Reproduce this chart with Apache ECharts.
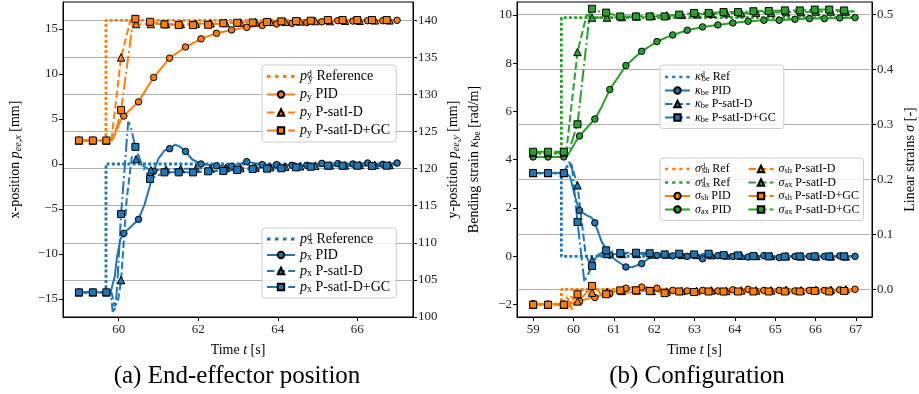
<!DOCTYPE html>
<html><head><meta charset="utf-8">
<script src="https://cdn.jsdelivr.net/npm/echarts@6/dist/echarts.min.js"></script>
<style>html,body{margin:0;padding:0;background:#fff}#c{width:919px;height:394px}</style>
</head><body><div id="c"></div>
<script>
// ---------- tick values ----------
const TX_A = [60, 62, 64, 66];
const TX_B = [59, 60, 61, 62, 63, 64, 65, 66, 67];
const TY_A_L = [-15, -10, -5, 0, 5, 10, 15];
const TY_A_R = [100, 105, 110, 115, 120, 125, 130, 135, 140];
const TY_B_L = [-2, 0, 2, 4, 6, 8, 10];
const TY_B_R = [0, 0.1, 0.2, 0.3, 0.4, 0.5];

// ---------- (a) y-position [mm] (right axis) ----------
const PY_REF = [[59,123.8],[59.68,123.8],[59.68,140],[67,140]];
const PY_PID = [[59,123.8],[59.35,123.8],[59.69,123.8],[60.13,127.1],[60.5,129.0],[60.88,132.3],[61.28,134.9],[61.68,136.4],[62.07,137.5],[62.46,138.25],[62.84,138.7],[63.22,139.05],[63.61,139.3],[63.97,139.5],[64.36,139.6],[64.73,139.7],[65.11,139.8],[65.51,139.95],[65.89,139.9],[66.26,139.95],[66.64,139.95],[67.0,140.0]];
const PY_PID_X = [[59.85,123.9],[59.97,125.5],[60.05,126.5],[60.3,128.0],[60.7,130.8]];
const PY_SAT = [[59,123.8],[59.35,123.8],[59.69,123.8],[60.06,135.0],[60.44,139.5],[60.81,139.5],[61.19,139.5],[61.56,139.5],[61.94,139.55],[62.31,139.6],[62.69,139.65],[63.06,139.7],[63.44,139.75],[63.81,139.8],[64.19,139.8],[64.56,139.85],[64.94,139.9],[65.31,139.9],[65.69,139.95],[66.06,139.95],[66.44,140.0],[66.81,140.0]];
const PY_SAT_X = [[59.82,124.0],[60.3,140.1],[67,140.0]];
const PY_GC = [[59,123.8],[59.35,123.8],[59.69,123.8],[60.06,127.9],[60.42,140.2],[60.79,139.8],[61.15,139.45],[61.51,139.36],[61.87,139.36],[62.25,139.4],[62.63,139.6],[62.98,139.67],[63.37,139.7],[63.73,139.77],[64.09,139.86],[64.46,139.9],[64.83,139.95],[65.26,140.04],[65.63,140.04],[66.0,140.04],[66.37,140.04],[66.74,140.04]];
const PY_GC_X = [[59.83,123.9],[59.95,125.5],[60.15,131.5],[60.37,140.3],[67,140.0]];

// ---------- (a) x-position [mm] (left axis) ----------
const PX_REF = [[59,-14.26],[59.68,-14.26],[59.68,0],[67,0]];
const PX_PID = [[59,-14.26],[59.35,-14.26],[59.69,-14.26],[60.13,-7.7],[60.5,-6.15],[60.88,-0.8],[61.28,1.7],[61.68,1.4],[62.07,0.0],[62.46,-0.2],[62.84,-0.26],[63.22,0.26],[63.61,-0.07],[63.97,-0.07],[64.36,-0.15],[64.73,-0.15],[65.11,0.07],[65.51,0.04],[65.89,0.0],[66.26,0.11],[66.64,-0.04],[67.0,0.11]];
const PX_PID_X = [[59.8,-14.2],[59.9,-12.5],[59.96,-10.3],[60.04,-8.4],[60.3,-7.0],[60.65,-4.5],[60.78,-2.5],[61.0,0.6],[61.15,1.5],[61.42,2.15],[61.55,1.9],[61.85,0.5]];
const PX_SAT = [[59,-14.26],[59.35,-14.26],[59.69,-14.26],[60.06,-12.9],[60.44,0.55],[60.81,-0.7],[61.19,-0.6],[61.56,-0.55],[61.94,-0.5],[62.31,-0.5],[62.69,-0.45],[63.06,-0.45],[63.44,-0.4],[63.81,-0.35],[64.19,-0.3],[64.56,-0.25],[64.94,-0.2],[65.31,-0.15],[65.69,-0.15],[66.06,-0.1],[66.44,-0.1],[66.81,-0.1]];
const PX_SAT_X = [[59.82,-14.3],[59.9,-15.8],[59.98,-15.3],[60.2,-4.0],[60.33,0.8],[60.6,-0.2],[67,-0.1]];
const PX_GC = [[59,-14.26],[59.35,-14.26],[59.69,-14.26],[60.06,-5.56],[60.42,1.9],[60.79,-1.67],[61.15,-0.93],[61.51,-0.93],[61.87,-0.93],[62.25,-0.81],[62.63,-0.78],[62.98,-0.67],[63.37,-0.56],[63.73,-0.52],[64.09,-0.48],[64.46,-0.37],[64.83,-0.3],[65.26,-0.19],[65.63,-0.19],[66.0,-0.19],[66.37,-0.22],[66.74,-0.19]];
const PX_GC_X = [[59.8,-14.3],[59.85,-16.4],[59.92,-16.0],[59.97,-13.0],[60.24,4.7],[60.3,4.2],[60.6,-0.3],[67,-0.15]];

// ---------- (b) bending strain kappa_be [rad/m] (left axis) ----------
const K_REF = [[59,3.45],[59.7,3.45],[59.7,0],[67,0]];
const K_PID = [[59,3.45],[59.37,3.45],[59.76,3.45],[60.15,1.9],[60.53,1.39],[60.9,0.05],[61.3,-0.44],[61.69,-0.3],[62.07,0.04],[62.46,0.02],[62.82,0.0],[63.2,-0.1],[63.58,0.03],[63.95,0.0],[64.33,-0.03],[64.72,0.03],[65.1,-0.05],[65.49,0.0],[65.85,0.0],[66.22,0.0],[66.6,0.02],[66.98,0.0]];
const K_PID_X = [[59.82,3.45],[59.92,3.28],[60.04,2.46],[60.33,1.7],[60.45,1.6],[60.7,0.6],[61.06,-0.17],[61.45,-0.45],[61.85,-0.1]];
const K_SAT = [[59,3.45],[59.37,3.45],[59.76,3.45],[60.1,2.94],[60.46,-0.17],[60.83,0.1],[61.2,0.1],[61.57,0.1],[61.94,0.08],[62.31,0.08],[62.68,0.06],[63.05,0.06],[63.42,0.05],[63.79,0.04],[64.16,0.03],[64.53,0.02],[64.9,0.02],[65.27,0.01],[65.64,0.0],[66.01,0.0],[66.38,0.0],[66.75,0.0]];
const K_SAT_X = [[59.8,3.5],[59.88,3.9],[59.95,3.8],[60.2,1.5],[60.3,0.1],[60.4,-0.3],[60.6,0.0],[67,0.0]];
const K_GC = [[59,3.45],[59.37,3.45],[59.76,3.45],[60.1,1.42],[60.46,-0.4],[60.81,0.25],[61.16,0.14],[61.55,0.15],[61.89,0.13],[62.26,0.08],[62.62,0.11],[62.99,0.08],[63.35,0.11],[63.72,0.05],[64.08,0.04],[64.46,0.01],[64.84,0.0],[65.24,-0.01],[65.61,0.0],[65.98,0.0],[66.34,0.0],[66.71,0.0]];
const K_GC_X = [[59.8,3.5],[59.9,3.85],[59.97,3.6],[60.27,-1.06],[60.6,0.05],[67,0.0]];

// ---------- (b) shear strain sigma_sh (right axis) ----------
const SH_REF = [[59,-0.027],[59.7,-0.027],[59.7,0.0],[67,0.0]];
const SH_PID = [[59,-0.026],[59.37,-0.027],[59.76,-0.027],[60.15,-0.022],[60.53,-0.015],[60.9,-0.008],[61.3,0.002],[61.69,0.004],[62.07,0.002],[62.46,-0.002],[62.82,-0.003],[63.2,-0.002],[63.58,-0.003],[63.95,-0.001],[64.33,0.0],[64.72,-0.002],[65.1,-0.002],[65.49,-0.003],[65.85,-0.002],[66.22,-0.002],[66.6,-0.001],[66.98,0.0]];
const SH_PID_X = [[59.85,-0.027],[60.0,-0.024],[60.35,-0.017],[60.7,-0.01],[61.1,-0.002],[61.5,0.004]];
const SH_SAT = [[59,-0.028],[59.37,-0.028],[59.76,-0.028],[60.1,-0.022],[60.46,-0.006],[60.83,-0.005],[61.2,-0.003],[61.57,-0.002],[61.94,-0.003],[62.31,-0.004],[62.68,-0.003],[63.05,-0.003],[63.42,-0.002],[63.79,-0.003],[64.16,-0.002],[64.53,-0.002],[64.9,-0.002],[65.27,-0.001],[65.64,-0.002],[66.01,-0.001],[66.38,-0.001],[66.75,0.0]];
const SH_SAT_X = [[59.82,-0.028],[59.87,-0.034],[59.92,-0.026],[59.96,-0.037],[60.02,-0.024],[60.2,-0.016],[60.3,-0.008],[60.38,-0.012],[60.6,-0.002],[60.7,-0.009],[61.0,-0.001],[61.4,-0.006],[67,0.0]];
const SH_GC = [[59,-0.028],[59.37,-0.028],[59.76,-0.028],[60.1,-0.009],[60.46,0.006],[60.81,-0.009],[61.16,-0.002],[61.55,-0.002],[61.89,-0.003],[62.26,-0.007],[62.62,-0.004],[62.99,-0.005],[63.35,-0.004],[63.72,-0.004],[64.08,-0.004],[64.46,-0.004],[64.84,-0.004],[65.24,-0.004],[65.61,-0.004],[65.98,-0.003],[66.34,-0.004],[66.71,-0.003]];
const SH_GC_X = [[59.8,-0.028],[59.85,-0.012],[59.9,-0.03],[59.95,-0.01],[60.0,-0.02],[60.25,0.0],[60.35,-0.006],[60.6,-0.001],[60.7,-0.012],[61.0,0.001],[61.3,-0.007],[67,-0.002]];

// ---------- (b) axial strain sigma_ax (right axis) ----------
const AX_REF = [[59,0.247],[59.7,0.247],[59.7,0.494],[67,0.494]];
const AX_PID = [[59,0.2406],[59.37,0.2406],[59.76,0.2406],[60.15,0.2787],[60.53,0.3096],[60.9,0.3631],[61.3,0.4067],[61.69,0.4327],[62.07,0.4504],[62.46,0.4624],[62.82,0.471],[63.2,0.477],[63.58,0.4806],[63.95,0.4842],[64.33,0.4873],[64.72,0.4891],[65.1,0.4891],[65.49,0.4909],[65.85,0.4921],[66.22,0.4921],[66.6,0.4933],[66.98,0.494]];
const AX_PID_X = [[59.84,0.242],[59.96,0.256],[60.05,0.268],[60.35,0.295],[60.7,0.332]];
const AX_SAT = [[59,0.248],[59.37,0.248],[59.76,0.248],[60.1,0.4315],[60.46,0.494],[60.83,0.494],[61.2,0.495],[61.57,0.496],[61.94,0.497],[62.31,0.498],[62.68,0.499],[63.05,0.5],[63.42,0.501],[63.79,0.502],[64.16,0.502],[64.53,0.503],[64.9,0.503],[65.27,0.504],[65.64,0.504],[66.01,0.505],[66.38,0.505],[66.75,0.505]];
const AX_SAT_X = [[59.82,0.249],[60.33,0.5],[60.38,0.497],[67,0.505]];
const AX_GC = [[59,0.25],[59.37,0.25],[59.76,0.25],[60.1,0.3],[60.46,0.51],[60.81,0.503],[61.16,0.496],[61.55,0.496],[61.89,0.496],[62.26,0.496],[62.62,0.4994],[62.99,0.5024],[63.35,0.5024],[63.72,0.504],[64.08,0.504],[64.46,0.5055],[64.84,0.506],[65.24,0.507],[65.61,0.507],[65.98,0.5085],[66.34,0.5085],[66.71,0.507]];
const AX_GC_X = [[59.82,0.25],[59.9,0.255],[60.4,0.5],[60.44,0.508],[67,0.505]];

// ---------- styling helpers ----------
const F = "'Liberation Serif','DejaVu Serif',serif";
const COL = {b:'#1f77b4', o:'#ff7f0e', g:'#2ca02c'};
const DOT = [3, 2.2], DASH = [7.4, 3.2], DASHDOT = [12.8, 3.2, 2, 3.2];

function merged(marks, extra) {
  const all = marks.map(p => ({p, m:true})).concat((extra || []).map(p => ({p, m:false})));
  all.sort((a, b) => a.p[0] - b.p[0]);
  return all.map(o => o.m ? {value:o.p} : {value:o.p, symbol:'none'});
}
function mk(name, marks, extra, color, kind, xi, yi) {
  const ref = kind === 'ref';
  const sym = {pid:'circle', sat:'triangle', gc:'rect'}[kind] || 'none';
  const size = {pid:6.5, sat:7.5, gc:7}[kind] || 0;
  return {
    name, type:'line', xAxisIndex:xi, yAxisIndex:yi,
    data: ref ? marks.map(p => ({value:p})) : merged(marks, extra),
    symbol:sym, symbolSize:size, showSymbol:!ref,
    lineStyle:{color, width: ref ? 2.8 : 2, type: ref ? DOT : kind === 'pid' ? 'solid' : kind === 'sat' ? DASH : DASHDOT},
    itemStyle:{color, borderColor:'#000', borderWidth: ref ? 0 : 1},
    emphasis:{disabled:true}, animation:false, silent:true
  };
}

const series = [
  mk('pxRef', PX_REF, null, COL.b, 'ref', 0, 0),
  mk('pxPID', PX_PID, PX_PID_X, COL.b, 'pid', 0, 0),
  mk('pxSat', PX_SAT, PX_SAT_X, COL.b, 'sat', 0, 0),
  mk('pxGC', PX_GC, PX_GC_X, COL.b, 'gc', 0, 0),
  mk('pyRef', PY_REF, null, COL.o, 'ref', 0, 1),
  mk('pyPID', PY_PID, PY_PID_X, COL.o, 'pid', 0, 1),
  mk('pySat', PY_SAT, PY_SAT_X, COL.o, 'sat', 0, 1),
  mk('pyGC', PY_GC, PY_GC_X, COL.o, 'gc', 0, 1),
  mk('kRef', K_REF, null, COL.b, 'ref', 1, 2),
  mk('kPID', K_PID, K_PID_X, COL.b, 'pid', 1, 2),
  mk('kSat', K_SAT, K_SAT_X, COL.b, 'sat', 1, 2),
  mk('kGC', K_GC, K_GC_X, COL.b, 'gc', 1, 2),
  mk('shRef', SH_REF, null, COL.o, 'ref', 1, 3),
  mk('axRef', AX_REF, null, COL.g, 'ref', 1, 3),
  mk('shPID', SH_PID, SH_PID_X, COL.o, 'pid', 1, 3),
  mk('axPID', AX_PID, AX_PID_X, COL.g, 'pid', 1, 3),
  mk('shSat', SH_SAT, SH_SAT_X, COL.o, 'sat', 1, 3),
  mk('axSat', AX_SAT, AX_SAT_X, COL.g, 'sat', 1, 3),
  mk('shGC', SH_GC, SH_GC_X, COL.o, 'gc', 1, 3),
  mk('axGC', AX_GC, AX_GC_X, COL.g, 'gc', 1, 3)
];

const LAB = {
  pyRef:'{i|p}{sp|d}{sb|y} Reference', pyPID:'{i|p}{sb|y} PID', pySat:'{i|p}{sb|y} P-satI-D', pyGC:'{i|p}{sb|y} P-satI-D+GC',
  pxRef:'{i|p}{sp|d}{sb|x} Reference', pxPID:'{i|p}{sb|x} PID', pxSat:'{i|p}{sb|x} P-satI-D', pxGC:'{i|p}{sb|x} P-satI-D+GC',
  kRef:'{i|κ}{sp|d}{sb|be} Ref', kPID:'{i|κ}{sb|be} PID', kSat:'{i|κ}{sb|be} P-satI-D', kGC:'{i|κ}{sb|be} P-satI-D+GC',
  shRef:'{i|σ}{sp|d}{sb|sh} Ref', axRef:'{i|σ}{sp|d}{sb|ax} Ref', shPID:'{i|σ}{sb|sh} PID', axPID:'{i|σ}{sb|ax} PID',
  shSat:'{i|σ}{sb|sh} P-satI-D', axSat:'{i|σ}{sb|ax} P-satI-D', shGC:'{i|σ}{sb|sh} P-satI-D+GC', axGC:'{i|σ}{sb|ax} P-satI-D+GC'
};
function richSet(fs, lh) {
  return {
    i:{fontStyle:'italic', fontFamily:F, fontSize:fs, lineHeight:lh, color:'#000'},
    sb:{fontFamily:F, fontSize:fs*0.7, lineHeight:fs*0.6, verticalAlign:'bottom', color:'#000'},
    sp:{fontFamily:F, fontSize:fs*0.7, lineHeight:fs*0.6, verticalAlign:'top', width:1, color:'#000'}
  };
}
const REF_ICON = 'path://M0,0M28,8M0,2.5h3.5v3h-3.5zM8,2.5h3.5v3h-3.5zM16,2.5h3.5v3h-3.5zM24,2.5h3.5v3h-3.5z';
function legend(names, left, top, fs, lh, gap, iw, extra) {
  return Object.assign({
    orient:'vertical', left, top, itemGap:gap, itemWidth:iw, itemHeight:8,
    backgroundColor:'rgba(255,255,255,0.8)', borderColor:'#cccccc', borderWidth:1, borderRadius:3,
    padding:[4, 6, 4, 4], selectedMode:false,
    data: names.map(n => /Ref$/.test(n) ? {name:n, icon:REF_ICON, itemStyle:{borderWidth:0}} : {name:n}),
    formatter: n => LAB[n],
    textStyle:{fontFamily:F, fontSize:fs, lineHeight:lh, color:'#000', rich:richSet(fs, lh)}
  }, extra || {});
}

const minus = v => (v < 0 ? '\u2212' : '') + Math.abs(v);
const axisRich = fs => ({
  i:{fontStyle:'italic', fontFamily:F, fontSize:fs},
  si:{fontStyle:'italic', fontFamily:F, fontSize:fs*0.72, verticalAlign:'bottom', lineHeight:fs*0.6},
  sb:{fontFamily:F, fontSize:fs*0.72, verticalAlign:'bottom', lineHeight:fs*0.6}
});
function yAx(grid, pos, min, max, ticks, name, gap, fmt, split) {
  return {
    type:'value', gridIndex:grid, position:pos, min, max,
    name, nameLocation:'middle', nameGap:gap, nameRotate:90,
    nameTextStyle:{fontFamily:F, fontSize:14, color:'#000', lineHeight:16, rich:axisRich(14)},
    axisLine:{show:true, onZero:false, lineStyle:{color:'#000', width:1}},
    axisTick:{show:true, length:4, lineStyle:{color:'#000', width:1}, customValues:ticks},
    axisLabel:{customValues:ticks, fontFamily:F, fontSize:13, color:'#222', margin:5, formatter:fmt},
    splitLine:{show:split, lineStyle:{color:'#b0b0b0', width:1}}
  };
}
function xAx(grid, ticks) {
  return {
    type:'value', gridIndex:grid, min:58.6, max:67.4,
    name:'Time {i|t} [s]', nameLocation:'middle', nameGap:26,
    nameTextStyle:{fontFamily:F, fontSize:14, color:'#000', rich:axisRich(14)},
    axisLine:{show:true, onZero:false, lineStyle:{color:'#000', width:1}},
    axisTick:{show:true, length:4, lineStyle:{color:'#000', width:1}, customValues:ticks},
    axisLabel:{customValues:ticks, fontFamily:F, fontSize:13, color:'#222', margin:6, formatter:minus},
    splitLine:{show:false}
  };
}

const chart = echarts.init(document.getElementById('c'), null, {renderer:'canvas'});
chart.setOption({
  animation:false,
  backgroundColor:'#fff',
  grid:[
    {left:63, right:506, top:2, bottom:77, show:true, borderColor:'#000', borderWidth:1, backgroundColor:'transparent'},
    {left:517, right:42, top:2, bottom:77, show:true, borderColor:'#000', borderWidth:1, backgroundColor:'transparent'}
  ],
  xAxis:[xAx(0, TX_A), xAx(1, TX_B)],
  yAxis:[
    yAx(0, 'left', -17, 18, TY_A_L, 'x-position {i|p}{si|ee,x} [mm]', 40, minus, false),
    yAx(0, 'right', 100, 142.47, TY_A_R, 'y-position {i|p}{si|ee,y} [mm]', 32, minus, true),
    yAx(1, 'left', -2.51, 10.53, TY_B_L, 'Bending strain {i|κ}{sb|be} [rad/m]', 35, minus, false),
    yAx(1, 'right', -0.0504, 0.5223, TY_B_R, 'Linear strains {i|σ} [-]', 30, v => v.toFixed(1), true)
  ],
  legend:[
    legend(['pyRef','pyPID','pySat','pyGC'], 262, 65, 14, 15, 3, 28),
    legend(['pxRef','pxPID','pxSat','pxGC'], 262, 228, 14, 14, 2, 28),
    legend(['kRef','kPID','kSat','kGC'], 660, 65, 12, 12, 1.5, 25, {padding:[6, 8, 5, 4]}),
    legend(['shRef','axRef','shPID','axPID','shSat','axSat','shGC','axGC'], 660, 158, 12, 12, 1.5, 25,
      {height:64, padding:[5, 4, 5, 4], textStyle:{fontFamily:F, fontSize:12, lineHeight:12, width:51, color:'#000', rich:richSet(12, 12)}})
  ],
  series,
  graphic:[
    {type:'text', x:237, y:376, style:{text:'(a) End-effector position', fontFamily:F, fontSize:25, fill:'#000', align:'center', verticalAlign:'middle', textAlign:'center', textVerticalAlign:'middle'}},
    {type:'text', x:697, y:376, style:{text:'(b) Configuration', fontFamily:F, fontSize:25, fill:'#000', align:'center', verticalAlign:'middle', textAlign:'center', textVerticalAlign:'middle'}}
  ]
});
</script></body></html>
